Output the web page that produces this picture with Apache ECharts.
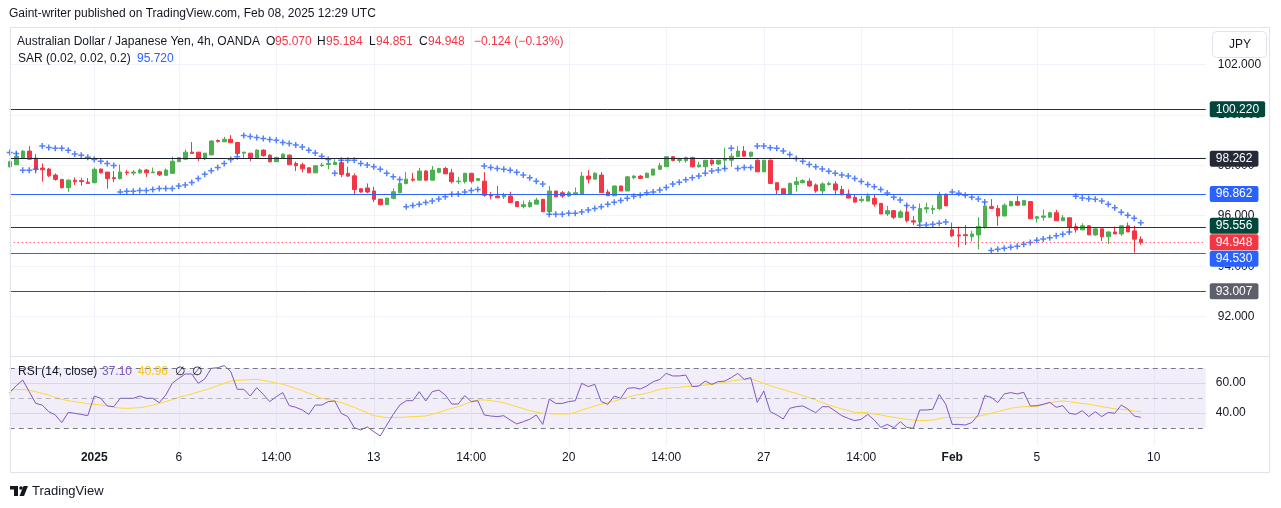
<!DOCTYPE html>
<html><head><meta charset="utf-8">
<script src="https://cdn.jsdelivr.net/npm/echarts@6/dist/echarts.min.js"></script>
<style>html,body{margin:0;padding:0;background:#fff}#c{width:1281px;height:508px}</style>
</head><body><div id="c"></div>
<script>
// ---- DATA ----
// candles: [open, close, low, high] (AUD/JPY 4h)
const candles = [
[97.94,98.14,97.91,98.18],[98.02,98.36,98.02,98.53],[98.27,98.56,98.27,98.60],[98.56,98.24,98.24,98.76],[98.28,97.85,97.68,98.44],
[97.89,97.82,97.35,98.07],[97.85,97.58,97.54,97.89],[97.61,97.44,97.39,97.68],[97.44,97.11,97.08,97.44],[97.11,97.41,96.95,97.44],
[97.41,97.35,97.22,97.52],[97.39,97.35,97.19,97.51],[97.33,97.28,97.28,97.49],[97.31,97.84,97.28,97.91],[97.85,97.70,97.68,97.87],
[97.73,97.47,97.07,97.73],[97.51,97.47,97.33,97.77],[97.47,97.73,97.44,98.03],[97.73,97.70,97.61,97.81],[97.69,97.73,97.60,97.81],
[97.70,97.81,97.66,97.87],[97.81,97.70,97.54,97.85],[97.70,97.73,97.70,97.91],[97.74,97.62,97.57,97.78],[97.60,97.81,97.60,97.87],
[97.68,98.16,97.65,98.34],[98.14,98.30,98.13,98.31],[98.24,98.52,98.20,98.63],[98.52,98.47,98.47,98.92],[98.52,98.27,98.16,98.52],
[98.26,98.48,98.20,98.48],[98.41,98.96,98.41,98.99],[98.98,98.94,98.90,99.03],[98.93,99.03,98.92,99.13],[99.03,98.89,98.89,99.19],
[98.90,98.47,98.39,98.90],[98.48,98.52,98.27,98.52],[98.48,98.27,98.16,98.48],[98.27,98.60,98.27,98.63],[98.60,98.38,98.34,98.63],
[98.40,98.14,98.11,98.44],[98.14,98.31,98.14,98.34],[98.28,98.44,98.26,98.47],[98.40,98.02,98.02,98.44],[98.07,97.98,97.77,98.14],
[98.02,97.86,97.72,98.10],[97.90,97.70,97.70,97.91],[97.70,97.98,97.70,98.01],[97.98,98.01,97.94,98.10],[98.03,98.07,97.84,98.20],
[98.03,98.11,98.03,98.24],[98.10,97.64,97.53,98.23],[97.68,97.57,97.53,97.94],[97.58,97.04,96.85,97.68],[97.07,96.94,96.91,97.07],
[97.10,96.94,96.89,97.28],[96.98,96.65,96.54,97.15],[96.66,96.44,96.41,96.66],[96.44,96.70,96.44,96.70],[96.69,96.95,96.65,97.08],
[96.91,97.28,96.89,97.32],[97.28,97.45,97.24,97.74],[97.45,97.41,97.35,97.70],[97.41,97.77,97.41,97.90],[97.77,97.41,97.37,97.81],
[97.41,97.81,97.41,97.97],[97.72,97.87,97.68,97.90],[97.87,97.66,97.66,97.94],[97.70,97.35,97.28,97.86],[97.35,97.37,97.26,97.54],
[97.35,97.68,97.28,97.70],[97.68,97.37,97.28,97.70],[97.40,97.47,97.40,97.49],[97.37,96.81,96.75,97.73],[96.82,96.78,96.65,96.94],
[96.78,96.71,96.71,97.18],[96.75,96.81,96.66,96.91],[96.78,96.52,96.52,96.95],[96.56,96.36,96.36,96.56],[96.36,96.44,96.29,96.60],
[96.36,96.52,96.32,96.62],[96.46,96.62,96.46,96.71],[96.65,96.16,96.16,96.67],[96.16,96.98,96.03,97.18],[96.98,96.75,96.75,96.98],
[96.91,96.78,96.71,96.98],[96.78,96.91,96.75,96.98],[96.86,96.91,96.86,97.12],[96.86,97.57,96.86,97.73],[97.57,97.45,97.28,97.81],
[97.45,97.68,97.45,97.72],[97.61,96.91,96.91,97.73],[96.94,96.79,96.79,97.04],[96.79,97.18,96.79,97.18],[97.18,96.98,96.98,97.18],
[96.98,97.54,96.98,97.57],[97.51,97.57,97.45,97.61],[97.57,97.48,97.45,97.61],[97.51,97.68,97.51,97.72],[97.61,97.85,97.61,97.85],
[97.84,97.98,97.84,98.10],[97.94,98.34,97.94,98.36],[98.34,98.19,98.16,98.36],[98.19,98.23,98.10,98.30],[98.18,98.30,98.11,98.34],
[98.30,97.94,97.91,98.34],[97.94,98.01,97.91,98.14],[97.94,98.20,97.74,98.20],[98.20,98.05,97.98,98.23],[98.05,98.20,98.01,98.20],
[98.20,98.27,97.84,98.70],[98.20,98.36,97.94,98.49],[98.34,98.56,98.34,98.76],[98.56,98.36,98.34,98.76],[98.36,98.52,98.31,98.52],
[98.20,97.74,97.74,98.23],[97.74,98.20,97.74,98.20],[98.20,97.28,97.28,98.23],[97.31,97.02,96.85,97.31],[97.07,96.85,96.82,97.07],
[96.85,97.28,96.85,97.32],[97.24,97.35,96.95,97.54],[97.31,97.39,97.28,97.45],[97.37,97.18,97.15,97.48],[97.22,96.98,96.91,97.28],
[96.98,97.26,96.86,97.32],[97.24,97.28,97.19,97.35],[97.26,97.02,96.86,97.37],[97.04,96.83,96.83,97.18],[96.86,96.70,96.70,97.04],
[96.73,96.54,96.52,96.85],[96.60,96.65,96.52,96.78],[96.58,96.79,96.58,96.89],[96.69,96.46,96.36,96.86],[96.49,96.07,96.07,96.49],
[96.07,96.20,95.99,96.39],[96.20,95.94,95.86,96.23],[95.94,96.15,95.90,96.23],[96.15,95.80,95.73,96.44],[95.80,95.75,95.63,95.99],
[95.75,96.29,95.61,96.49],[96.27,96.32,96.10,96.52],[96.25,96.29,96.07,96.42],[96.28,96.85,96.23,96.95],[96.85,96.39,96.39,96.89],
[95.44,95.20,95.15,95.73],[95.24,95.20,94.75,95.57],[95.25,95.21,94.84,95.63],[95.17,95.28,94.98,95.41],[95.24,95.57,94.67,95.94],
[95.54,96.39,95.49,96.56],[96.36,96.29,96.29,96.66],[96.29,95.99,95.60,96.42],[95.99,96.42,95.99,96.49],[96.39,96.56,96.39,96.60],
[96.56,96.42,96.39,96.78],[96.42,96.60,96.42,96.62],[96.56,95.88,95.88,96.58],[95.90,95.96,95.73,95.99],[95.94,95.99,95.80,96.25],
[95.94,96.12,95.94,96.16],[96.12,95.80,95.80,96.23],[95.80,95.92,95.80,96.03],[95.92,95.54,95.33,95.92],[95.57,95.44,95.33,95.70],
[95.44,95.60,95.44,95.70],[95.60,95.24,95.24,95.63],[95.24,95.48,95.20,95.50],[95.48,95.17,95.00,95.48],[95.17,95.36,94.88,95.37],
[95.36,95.28,95.28,95.57],[95.28,95.60,95.20,95.60],[95.60,95.36,95.36,95.73],[95.40,95.072,94.54,95.60],[95.070,94.948,94.851,95.184]
];
// Parabolic SAR (0.02, 0.02, 0.2)
const sar = [
98.51,98.47,97.80,97.80,97.84,98.76,98.70,98.67,98.67,98.59,
98.45,98.40,98.32,98.23,98.16,98.07,97.99,96.94,96.97,96.97,
97.00,97.00,97.04,97.08,97.08,97.08,97.18,97.22,97.32,97.48,
97.64,97.78,97.91,98.07,98.23,98.34,99.18,99.14,99.10,99.06,
99.02,98.99,98.90,98.86,98.80,98.72,98.59,98.49,98.36,98.23,
97.68,98.20,98.20,98.20,98.07,98.01,97.94,97.84,97.68,97.54,
97.44,96.36,96.41,96.46,96.52,96.58,96.66,96.75,96.85,96.86,
96.94,97.00,97.04,97.97,97.91,97.87,97.84,97.80,97.72,97.61,
97.51,97.37,97.26,96.06,96.06,96.06,96.10,96.10,96.15,96.23,
96.29,96.36,96.46,96.53,96.60,96.69,96.77,96.81,96.91,96.94,
97.02,97.12,97.26,97.33,97.43,97.51,97.57,97.68,97.77,97.81,
97.87,98.67,97.87,97.91,97.91,98.76,98.76,98.69,98.67,98.56,
98.43,98.27,98.16,98.03,97.94,97.85,97.76,97.68,97.61,97.57,
97.48,97.36,97.24,97.15,97.04,96.90,96.73,96.62,96.41,96.33,
95.62,95.63,95.66,95.70,95.75,96.94,96.89,96.81,96.73,96.66,
96.54,94.62,94.67,94.71,94.75,94.79,94.87,94.94,95.03,95.08,
95.13,95.21,95.27,95.36,96.77,96.70,96.67,96.65,96.58,96.46,
96.32,96.14,96.02,95.90,95.720
];
// RSI (14, close)
const rsi = [
53.6,58.2,62.0,54.2,46.4,45.3,40.9,38.7,33.6,40.4,
39.8,39.1,38.2,51.3,49.8,44.7,44.2,49.8,49.8,49.8,
51.3,49.8,49.8,46.9,52.0,59.8,63.1,66.0,66.0,59.8,
62.7,69.8,70.2,71.6,67.6,55.8,55.8,51.3,56.9,52.4,
47.6,50.9,53.6,44.9,43.8,42.0,39.1,45.3,45.3,47.6,
48.0,39.8,37.6,30.2,28.7,30.7,27.6,24.7,32.0,39.1,
45.3,48.2,48.2,54.2,48.0,54.2,55.3,52.0,46.0,46.0,
51.6,47.6,48.2,38.7,38.0,37.6,38.2,35.3,32.7,34.2,
35.8,38.7,32.4,49.3,46.4,46.4,47.6,48.2,59.8,57.6,
59.1,47.6,45.8,51.3,49.8,56.4,56.9,56.0,58.0,60.9,
62.4,66.4,64.7,64.7,65.3,57.6,58.0,61.3,59.1,60.9,
61.3,63.6,66.4,62.4,63.6,47.1,54.7,40.9,38.7,36.0,
43.1,44.2,44.7,42.5,40.2,44.2,44.2,41.3,38.2,36.4,
34.9,35.8,39.1,35.3,30.4,32.4,30.2,34.2,30.4,29.8,
42.0,42.0,42.5,52.4,45.8,32.4,32.4,32.0,33.6,38.7,
51.6,50.4,46.9,52.7,53.6,52.7,53.8,44.7,44.9,45.8,
47.1,43.8,44.9,39.8,39.1,41.6,37.6,40.9,37.6,40.4,
39.8,45.3,42.7,38.0,37.10
];
// RSI-based moving average
const rsiMa = [
55.3,55.6,55.8,55.1,54.2,53.1,52.0,50.4,49.1,48.2,
47.6,46.9,46.2,45.8,45.3,44.9,43.8,43.3,43.1,43.3,
43.6,44.2,45.3,46.4,47.6,48.9,50.4,51.6,52.7,54.0,
55.3,56.7,58.2,59.8,61.3,61.8,62.0,62.2,62.4,61.8,
60.9,60.0,59.1,57.8,56.4,54.9,53.1,51.6,49.8,48.9,
48.2,46.9,45.3,43.8,42.0,40.2,38.2,37.6,36.9,37.1,
37.1,37.3,37.6,37.8,38.0,39.1,40.4,41.8,43.1,44.2,
45.8,47.6,48.7,48.7,48.2,47.6,46.9,45.6,44.2,42.9,
41.6,40.7,39.8,39.6,39.3,39.3,39.3,40.4,42.0,43.3,
44.7,45.8,46.9,48.0,49.1,50.4,51.6,52.4,53.1,54.4,
55.8,56.4,56.9,57.1,57.6,57.8,58.2,58.7,59.1,59.8,
60.4,61.3,62.0,62.4,62.7,61.3,59.8,58.2,56.9,55.6,
54.2,53.1,51.6,50.2,48.7,46.9,45.3,44.0,42.7,41.6,
40.4,40.4,40.2,39.3,38.7,37.8,37.1,36.4,35.8,35.3,
34.9,35.1,35.3,36.2,37.1,36.9,36.9,36.9,36.9,37.8,
38.7,39.8,40.9,42.0,43.1,43.8,44.2,44.2,44.2,45.6,
46.9,47.6,48.0,47.6,46.9,46.4,45.8,45.1,44.2,43.6,
42.7,42.5,42.0,41.3,40.96
];
// horizontal levels drawn on the chart
const levelValues = [100.220, 98.262, 96.862, 95.556, 94.948, 94.530, 93.007];
// time axis
const slotCount = 185;
const xTickIndex = [13, 26, 41, 56, 71, 86, 101, 116, 131, 145, 158, 176];
const xTickText = ['2025', '6', '14:00', '13', '14:00', '20', '14:00', '27', '14:00', 'Feb', '5', '10'];
const priceTicks = [92, 94, 96, 98, 100, 102];
const rsiTicks = [40, 60];
const changeText = '\u22120.124 (\u22120.13%)';

// ---- STYLE ----
const FONT = '"Liberation Sans", Arial, sans-serif';
const UP = '#4caf50', DOWN = '#f23645', GRIDC = '#f0f3fa', TXT = '#131722';
const levelStyles = [
  {line: '#00473c', tag: '#00473c', type: 'solid', shift: 0},
  {line: '#1e222d', tag: '#262a36', type: 'solid', shift: 0},
  {line: '#2962ff', tag: '#2962ff', type: 'solid', shift: 0},
  {line: '#00473c', tag: '#00473c', type: 'solid', shift: -1},
  {line: '#f23645', tag: '#f23645', type: [1, 3], shift: 0},
  {line: '#2962ff', tag: '#2962ff', type: 'solid', shift: 6},
  {line: '#4a4d57', tag: '#5d606b', type: 'solid', shift: 0}
];

const cats = Array.from({length: slotCount}, (_, i) => String(i));
const tickMap = {};
xTickIndex.forEach((k, i) => { tickMap[k] = xTickText[i]; });
const showTick = (i) => tickMap[i] !== undefined;

const last = candles[candles.length - 1];
const fmt3 = v => v.toFixed(3);

const chart = echarts.init(document.getElementById('c'), null, {renderer: 'canvas'});

const txt = (text, x, y, fill, extra) => Object.assign({
  type: 'text', x: x, y: y, z: 100,
  style: Object.assign({text: text, fill: fill || TXT, fontSize: 12, fontFamily: FONT, verticalAlign: 'middle', align: 'left'}, extra || {})
});

const option = {
  animation: false,
  textStyle: {fontFamily: FONT},
  grid: [
    {left: 9.75, right: 75.25, top: 28, height: 328},
    {left: 9.75, right: 75.25, top: 356, height: 90}
  ],
  xAxis: [
    {type: 'category', gridIndex: 0, data: cats, boundaryGap: false,
     axisLine: {show: false}, axisTick: {show: false}, axisLabel: {show: false},
     splitLine: {show: true, interval: (i) => showTick(i), lineStyle: {color: GRIDC, width: 1}}},
    {type: 'category', gridIndex: 1, data: cats, boundaryGap: false,
     axisLine: {show: false}, axisTick: {show: false},
     axisLabel: {show: true, interval: (i) => showTick(i), margin: 6, fontSize: 12, color: TXT, fontFamily: FONT,
       formatter: (v, i) => {
         const t = tickMap[i] || '';
         return (t === '2025' || t === 'Feb') ? '{b|' + t + '}' : t;
       },
       rich: {b: {fontWeight: 'bold', fontSize: 12, color: TXT, fontFamily: FONT}}},
     splitLine: {show: true, interval: (i) => showTick(i), lineStyle: {color: GRIDC, width: 1}}}
  ],
  yAxis: [
    {type: 'value', gridIndex: 0, position: 'right', min: 90.443, max: 103.438,
     axisLine: {show: false}, axisTick: {show: false, customValues: priceTicks},
     axisLabel: {customValues: priceTicks, formatter: fmt3, color: TXT, fontSize: 12, margin: 12, fontFamily: FONT},
     splitLine: {show: true, lineStyle: {color: GRIDC}}},
    {type: 'value', gridIndex: 1, position: 'right', min: 18, max: 78,
     axisLine: {show: false}, axisTick: {show: false, customValues: rsiTicks},
     axisLabel: {customValues: rsiTicks, formatter: v => v.toFixed(2), color: TXT, fontSize: 12, margin: 10, fontFamily: FONT},
     splitLine: {show: true, lineStyle: {color: '#e6e2f0'}}}
  ],
  series: [
    {type: 'candlestick', xAxisIndex: 0, yAxisIndex: 0, data: candles, barWidth: 4, clip: true,
     itemStyle: {color: UP, color0: DOWN, borderColor: UP, borderColor0: DOWN, borderWidth: 1},
     markLine: {
       silent: true, symbol: ['none', 'none'], animation: false,
       data: levelValues.map((v, i) => ({
         yAxis: v,
         lineStyle: {color: levelStyles[i].line, width: 1, type: levelStyles[i].type},
         label: {show: true, position: 'end', distance: 4, formatter: fmt3(v), color: '#fff',
           offset: [0, levelStyles[i].shift],
           backgroundColor: levelStyles[i].tag, padding: [2, 6, 1, 6], lineHeight: 13, fontSize: 12, borderRadius: 2, fontFamily: FONT}
       }))
     }
    },
    {type: 'scatter', xAxisIndex: 0, yAxisIndex: 0, data: sar,
     symbol: 'path://M2.25 0h1.5v2.25h2.25v1.5h-2.25v2.25h-1.5v-2.25h-2.25v-1.5h2.25z',
     symbolSize: 6, itemStyle: {color: '#2962ff'}, silent: true},
    {type: 'line', xAxisIndex: 1, yAxisIndex: 1, data: rsi, showSymbol: false, symbol: 'none',
     lineStyle: {color: '#7e57c2', width: 1}, z: 4,
     markArea: {silent: true, itemStyle: {color: 'rgba(126,87,194,0.1)'}, data: [[{yAxis: 70}, {yAxis: 30}]]},
     markLine: {silent: true, symbol: ['none', 'none'], label: {show: false},
       data: [
         {yAxis: 70, lineStyle: {color: '#787b86', type: [5, 4], width: 1}},
         {yAxis: 50, lineStyle: {color: 'rgba(120,123,134,0.5)', type: [5, 4], width: 1}},
         {yAxis: 30, lineStyle: {color: '#787b86', type: [5, 4], width: 1}}
       ]}
    },
    {type: 'line', xAxisIndex: 1, yAxisIndex: 1, data: rsiMa, showSymbol: false, symbol: 'none',
     lineStyle: {color: '#fdd835', width: 1}, z: 3}
  ],
  graphic: [
    {type: 'rect', z: 90, shape: {x: 10.5, y: 27.5, width: 1259, height: 445}, style: {fill: 'none', stroke: '#e0e3eb', lineWidth: 1}},
    {type: 'line', z: 90, shape: {x1: 10, y1: 356.5, x2: 1270, y2: 356.5}, style: {stroke: '#e0e3eb', lineWidth: 1}},
    txt('Gaint-writer published on TradingView.com, Feb 08, 2025 12:29 UTC', 9, 14, TXT),
    txt('Australian Dollar / Japanese Yen, 4h, OANDA', 17, 42, TXT),
    txt('O', 266, 42, TXT), txt(fmt3(last[0]), 275, 42, DOWN),
    txt('H', 317, 42, TXT), txt(fmt3(last[3]), 326, 42, DOWN),
    txt('L', 369, 42, TXT), txt(fmt3(last[2]), 376, 42, DOWN),
    txt('C', 419, 42, TXT), txt(fmt3(last[1]), 428, 42, DOWN),
    txt(changeText, 474, 42, DOWN),
    txt('SAR (0.02, 0.02, 0.2)', 18, 59, TXT), txt(fmt3(sar[sar.length - 1]), 137, 59, '#2962ff'),
    txt('RSI (14, close)', 18, 372, TXT),
    txt(rsi[rsi.length - 1].toFixed(2), 102, 372, '#7e57c2'),
    txt(rsiMa[rsiMa.length - 1].toFixed(2), 138, 372, '#f5c518'),
    txt('\u2205  \u2205', 175, 372, TXT),
    {type: 'rect', z: 95, shape: {x: 1212.5, y: 31.5, width: 54, height: 26, r: 4}, style: {fill: '#fff', stroke: '#e0e3eb', lineWidth: 1}},
    txt('JPY', 1240, 45, TXT, {align: 'center'}),
    {type: 'rect', z: 100, shape: {x: 10, y: 486, width: 8, height: 3.5}, style: {fill: TXT}},
    {type: 'rect', z: 100, shape: {x: 14, y: 486, width: 4, height: 10}, style: {fill: TXT}},
    {type: 'circle', z: 100, shape: {cx: 21, cy: 488, r: 1.8}, style: {fill: TXT}},
    {type: 'polygon', z: 100, shape: {points: [[23.5, 486], [28, 486], [24, 496], [19.5, 496]]}, style: {fill: TXT}},
    txt('TradingView', 32, 491, TXT, {fontSize: 13})
  ]
};
chart.setOption(option);
</script></body></html>
